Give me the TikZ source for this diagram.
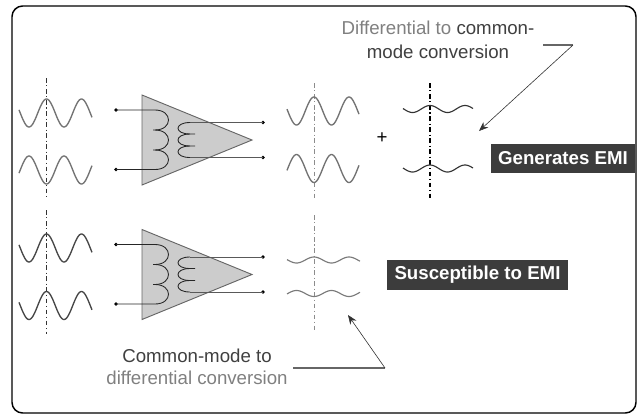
\documentclass[tikz,border=0pt]{standalone}
\usepackage{fontspec}
\setmainfont{Liberation Sans}
\usetikzlibrary{arrows.meta}
\definecolor{boxdark}{HTML}{3C3C3C}
\definecolor{ampfill}{HTML}{CCCCCC}
\definecolor{lblgray}{HTML}{808080}
\definecolor{lbldark}{HTML}{404040}
\newcommand{\sinewave}[6]{% style, centre x, centre y, signed amplitude, from, to
  \draw[#1,line join=round] plot[domain=#5:#6,samples=90] (\x,{#3-(#4)*cos(10.2857*(\x-#2))});}
\tikzset{
  x=0.75pt,y=-0.75pt,
  frame/.style={draw=black,line width=1.1pt,rounded corners=8pt},
  wavegray/.style={draw=black!55,line width=1pt},
  wavedark/.style={draw=black!72,line width=1pt},
  waveblack/.style={draw=black!80,line width=0.85pt},
  wavesoft/.style={draw=black!52,line width=0.85pt},
  axisdark/.style={draw=black!80,line width=0.5pt,dash pattern=on 3.5pt off 2pt on 0.8pt off 2pt},
  axisgray/.style={draw=black!45,line width=0.75pt,dash pattern=on 3.5pt off 2pt on 0.8pt off 2pt},
  axisblack/.style={draw=black,line width=0.9pt,dash pattern=on 3.5pt off 2pt on 0.8pt off 2pt},
  termdot/.style={circle,fill=black,inner sep=0pt,minimum size=2.8pt},
  wire/.style={draw=black!85,line width=0.65pt},
  outwire/.style={draw=black!65,line width=0.65pt},
  emibox/.style={fill=boxdark,text=white,inner sep=0pt,font=\fontsize{14}{16}\selectfont\bfseries},
  note/.style={align=center,inner sep=0pt,text=lbldark},
  leader/.style={draw=black!60,line width=0.8pt},
  pointer/.style={draw=black!80,line width=0.45pt,-{Stealth[length=7pt,width=5.5pt]}},
  ampstage/.pic={
    \coordinate (t) at (142,95);
    \coordinate (b) at (142,185);
    \coordinate (tip) at (252,140);
    \draw[fill=ampfill,draw=black!60,line width=0.7pt] (t) -- (tip) -- (b) -- cycle;
    \node[termdot] (i1) at (116,110) {};
    \node[termdot] (i2) at (116,169.5) {};
    \node[termdot] (o1) at (263,122.5) {};
    \node[termdot] (o2) at (263,157.5) {};
    \coordinate (p1) at (155,110);
    \coordinate (p2) at (155,130);
    \coordinate (p3) at (155,150);
    \coordinate (p4) at (155,169.5);
    \coordinate (s1) at (190,122.5);
    \coordinate (s2) at (190,134);
    \coordinate (s3) at (190,146);
    \coordinate (s4) at (190,157.5);
    \draw[wire] (i1.center) -- (p1) .. controls (173,110) and (173,130) .. (p2) -- (153,130);
    \draw[wire] (p2) .. controls (173,130) and (173,150) .. (p3) -- (153,150);
    \draw[wire] (p3) .. controls (173,150) and (173,169.5) .. (p4) -- (i2.center);
    \draw[outwire] (o1.center) -- (s1);
    \draw[wire] (s1) .. controls (174,122.5) and (174,134) .. (s2) -- (195,134);
    \draw[wire] (s2) .. controls (174,134) and (174,146) .. (s3) -- (195,146);
    \draw[wire] (s3) .. controls (174,146) and (174,157.5) .. (s4);
    \draw[outwire] (s4) -- (o2.center);
  }
}
\begin{document}
\begin{tikzpicture}
\useasboundingbox (0,0) rectangle (638,415);
\fill[white] (0,0) rectangle (638,415);
\draw[frame] (12,6) rectangle (636,413);

% upper row
\coordinate (a1t) at (46.5,78); \coordinate (a1b) at (46.5,198);
\draw[axisdark] (a1t) -- (a1b);
\sinewave{wavegray}{46.5}{113}{14}{19}{92}
\sinewave{wavegray}{46.5}{170}{-14}{19}{92}
\pic (ampA) at (0,0) {ampstage};
\coordinate (a2t) at (314,83); \coordinate (a2b) at (314,198);
\draw[axisgray] (a2t) -- (a2b);
\sinewave{wavegray}{314}{111}{14}{287}{359}
\sinewave{wavegray}{314}{168.5}{-14}{287}{359}
\node[inner sep=0pt,font=\fontsize{14}{16}\selectfont,text=black] (plus) at (382,138) {+};
\coordinate (a3t) at (430,83); \coordinate (a3b) at (430,198);
\draw[axisblack] (a3t) -- (a3b);
\sinewave{waveblack}{430}{109}{3.5}{403}{473}
\sinewave{waveblack}{430}{168.5}{3.5}{403}{473}

% lower row
\coordinate (a4t) at (46.5,210); \coordinate (a4b) at (46.5,334);
\draw[axisdark] (a4t) -- (a4b);
\sinewave{wavedark}{46.5}{248}{14}{19}{92}
\sinewave{wavedark}{46.5}{305.5}{14}{19}{92}
\pic (ampB) at (0,134.5) {ampstage};
\coordinate (a5t) at (314,215); \coordinate (a5b) at (314,330);
\draw[axisgray] (a5t) -- (a5b);
\sinewave{wavesoft}{314}{260}{3}{287}{360}
\sinewave{wavesoft}{314}{293.5}{-3}{287}{360}

% labels
\node[emibox,minimum width=108pt,minimum height=21.75pt] (gen) at (563,158.5) {Generates EMI};
\node[emibox,minimum width=135.75pt,minimum height=22.5pt] (sus) at (477.5,275) {Susceptible to EMI};
\node[note,font=\fontsize{14}{18}\selectfont] (ldiff) at (438,40) {{\color{lblgray}Differential to} common-\\mode conversion};
\node[note,font=\fontsize{14}{16.5}\selectfont] (lcm) at (197,367) {Common-mode to\\{\color{lblgray}differential conversion}};

% pointers
\coordinate (d0) at (543,45); \coordinate (d1) at (573,45); \coordinate (d2) at (479,131);
\draw[leader] (d0) -- (d1);
\draw[pointer] (d1) -- (d2);
\coordinate (c0) at (293,368); \coordinate (c1) at (385,368); \coordinate (c2) at (348,315);
\draw[leader] (c0) -- (c1);
\draw[pointer] (c1) -- (c2);
\end{tikzpicture}
\end{document}
